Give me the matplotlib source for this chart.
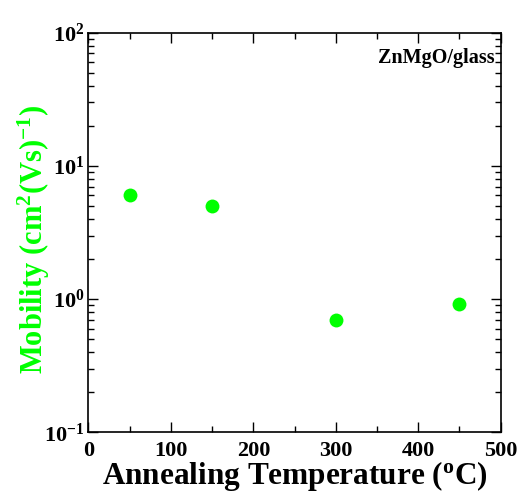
import matplotlib
matplotlib.use("Agg")
import matplotlib.pyplot as plt
from matplotlib.ticker import MultipleLocator, LogLocator

# annealing temperature (C) and Hall mobility (cm^2/Vs)
temperature = [50, 150, 300, 450]
mobility = [6.05, 4.98, 0.70, 0.915]

sample_label = "ZnMgO/glass"
x_label = "Annealing Temperature ($\\mathregular{^o}$C)"
y_label = "Mobility (cm$^\\mathregular{2}$(Vs)$^\\mathregular{-1}$)"

plt.rcParams['font.family'] = 'Liberation Serif'
plt.rcParams['font.weight'] = 'bold'
plt.rcParams['axes.labelweight'] = 'bold'
plt.rcParams['mathtext.fontset'] = 'custom'
plt.rcParams['mathtext.rm'] = 'Liberation Serif:bold'
plt.rcParams['mathtext.bf'] = 'Liberation Serif:bold'
plt.rcParams['mathtext.default'] = 'bf'

fig = plt.figure(figsize=(5.17, 4.92), dpi=100)
ax = fig.add_axes([0.171, 0.1213, 0.7975, 0.8122])

ax.plot(temperature, mobility, 'o', color='#00ff00', markersize=10, markeredgewidth=0)

ax.set_xlim(0, 500)
ax.set_ylim(0.1, 100)
ax.set_yscale('log')
ax.xaxis.set_major_locator(MultipleLocator(100))
ax.xaxis.set_minor_locator(MultipleLocator(50))
ax.yaxis.set_major_locator(LogLocator(base=10))
ax.yaxis.set_minor_locator(LogLocator(base=10, subs=range(2, 10)))

for side in ax.spines.values():
    side.set_linewidth(1.2)
ax.tick_params(which='both', direction='in', top=True, right=True, width=1.0)
ax.tick_params(which='major', length=7, labelsize=16)
ax.tick_params(which='minor', length=4)
ax.tick_params(axis='x', pad=6)
ax.tick_params(axis='y', pad=3)

ax.set_xlabel(x_label, fontsize=22.5, fontweight='bold', labelpad=-1)
ax.set_ylabel(y_label, fontsize=22, fontweight='bold', color='#00ff00')
ax.yaxis.set_label_coords(-0.089, 0.484)

ax.text(0.985, 0.925, sample_label, transform=ax.transAxes, ha='right', va='baseline',
        fontsize=14.5, fontweight='bold')

fig.savefig('out.png', dpi=100)
